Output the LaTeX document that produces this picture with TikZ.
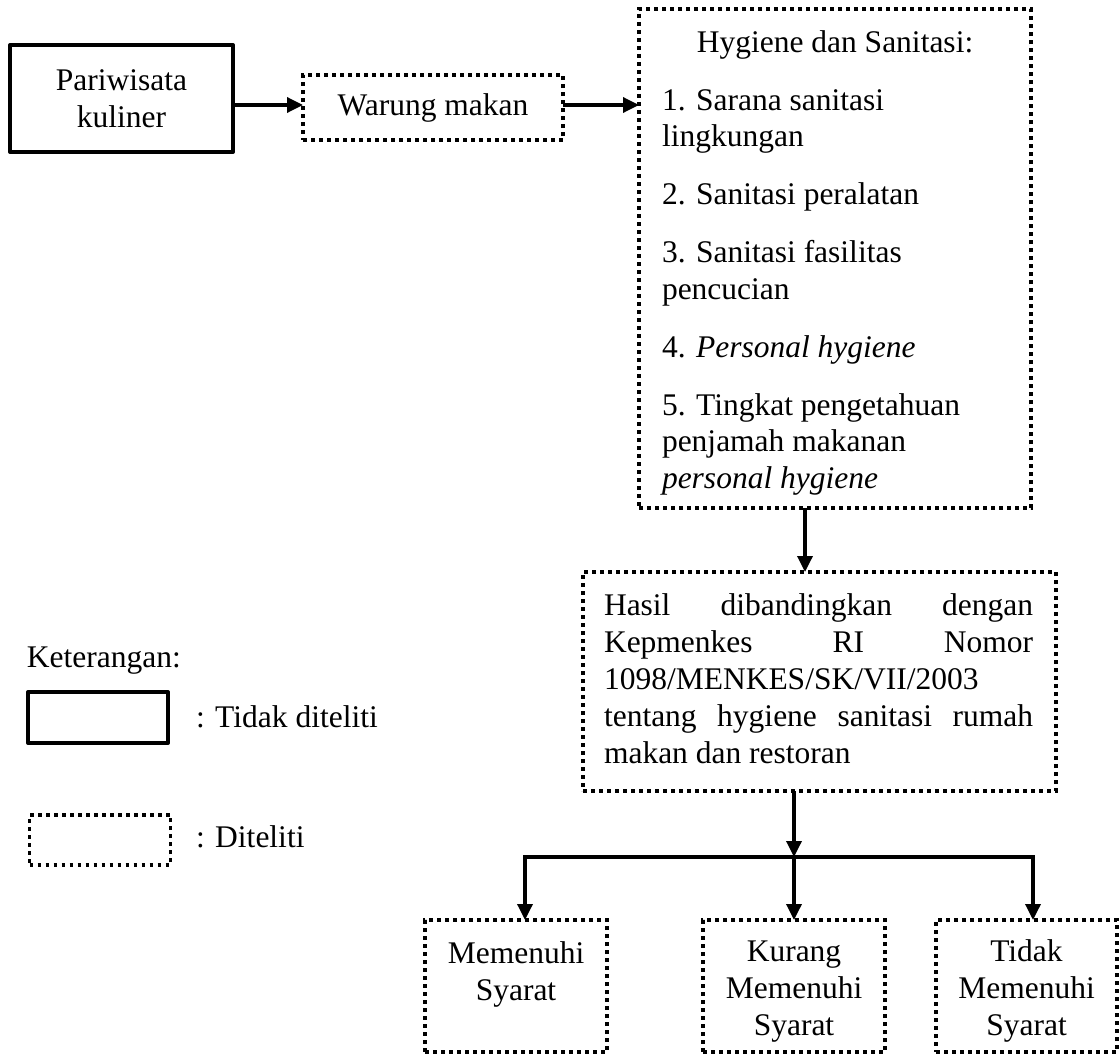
\documentclass[tikz,border=0pt]{standalone}
\usepackage{fontspec}
\setmainfont{Liberation Serif}
\usetikzlibrary{arrows.meta,calc}
\begin{document}
\begin{tikzpicture}[x=1pt,y=-1pt,
  every node/.style={font=\fontsize{31.5}{36.5}\selectfont, inner sep=0pt, outer sep=0pt},
  solidbox/.style={draw, line width=4pt, line join=round, rectangle},
  dotbox/.style={draw, line width=3.6pt, dash pattern=on 3.6pt off 4.4pt, rectangle},
  arr/.style={line width=3.4pt, -{Triangle[length=16pt,width=15pt]}},
  plainline/.style={line width=3.4pt, line cap=rect},
  txt/.style={anchor=base west},
  ctxt/.style={anchor=base},
]
\useasboundingbox (0,0) rectangle (1119,1055);

% top row
\node[solidbox, minimum width=223pt, minimum height=107pt, align=center] (pw) at (121.5,98.5) {Pariwisata\\kuliner};
\node[dotbox, minimum width=260pt, minimum height=65pt] (wm) at (433,107.5) {Warung makan};
\node[dotbox, minimum width=392pt, minimum height=499pt] (hyg) at (835,258.5) {};

\node[ctxt] (h0) at (835,52) {Hygiene dan Sanitasi:};
\node[txt] (h1a) at (662,110) {1. Sarana sanitasi};
\node[txt] (h1b) at (662,146.5) {lingkungan};
\node[txt] (h2) at (662,204.5) {2. Sanitasi peralatan};
\node[txt] (h3a) at (662,262.5) {3. Sanitasi fasilitas};
\node[txt] (h3b) at (662,299) {pencucian};
\node[txt] (h4) at (662,357) {4. \textit{Personal hygiene}};
\node[txt] (h5a) at (662,415) {5. Tingkat pengetahuan};
\node[txt] (h5b) at (662,451.5) {penjamah makanan};
\node[txt] (h5c) at (662,488) {\textit{personal hygiene}};

% hasil box
\node[dotbox, minimum width=473pt, minimum height=219pt] (has) at (819.5,681.5) {};
\node[txt] (s1) at (604,615) {\makebox[429pt][s]{Hasil dibandingkan dengan}};
\node[txt] (s2) at (604,652) {\makebox[429pt][s]{Kepmenkes RI Nomor}};
\node[txt] (s3) at (604,689) {1098/MENKES/SK/VII/2003};
\node[txt] (s4) at (604,726) {\makebox[429pt][s]{tentang hygiene sanitasi rumah}};
\node[txt] (s5) at (604,763) {makan dan restoran};

% result boxes
\node[dotbox, minimum width=182pt, minimum height=132pt] (m1) at (516,986) {};
\node[dotbox, minimum width=182pt, minimum height=132pt] (m2) at (794,986) {};
\node[dotbox, minimum width=181pt, minimum height=132pt] (m3) at (1026.5,986) {};
\node[ctxt] (t1a) at (516,963) {Memenuhi};
\node[ctxt] (t1b) at (516,1000) {Syarat};
\node[ctxt] (t2a) at (794,961) {Kurang};
\node[ctxt] (t2b) at (794,998) {Memenuhi};
\node[ctxt] (t2c) at (794,1035) {Syarat};
\node[ctxt] (t3a) at (1026.5,961) {Tidak};
\node[ctxt] (t3b) at (1026.5,998) {Memenuhi};
\node[ctxt] (t3c) at (1026.5,1035) {Syarat};

% legend
\node[txt] (ket) at (27,667) {Keterangan:};
\node[solidbox, minimum width=140pt, minimum height=51pt] (ls) at (98,717.5) {};
\node[txt] (lst) at (196,727) {: Tidak diteliti};
\node[dotbox, minimum width=141pt, minimum height=50pt] (ld) at (100,840) {};
\node[txt] (ldt) at (196,847) {: Diteliti};

% connectors
\coordinate (ay) at (0,105);
\draw[arr] (pw.east |- ay) -- (wm.west |- ay);
\draw[arr] (wm.east |- ay) -- (hyg.west |- ay);
\coordinate (ax) at (805,0);
\draw[arr] (hyg.south -| ax) -- (has.north -| ax);
\coordinate (b1) at (525,857);
\coordinate (b2) at (794,857);
\coordinate (b3) at (1033,857);
\draw[arr] (has.south -| b2) -- (b2);
\draw[plainline] (b1) -- (b3);
\draw[arr] (b1) -- (b1 |- m1.north);
\draw[arr] (b2) -- (b2 |- m2.north);
\draw[arr] (b3) -- (b3 |- m3.north);
\end{tikzpicture}
\end{document}
